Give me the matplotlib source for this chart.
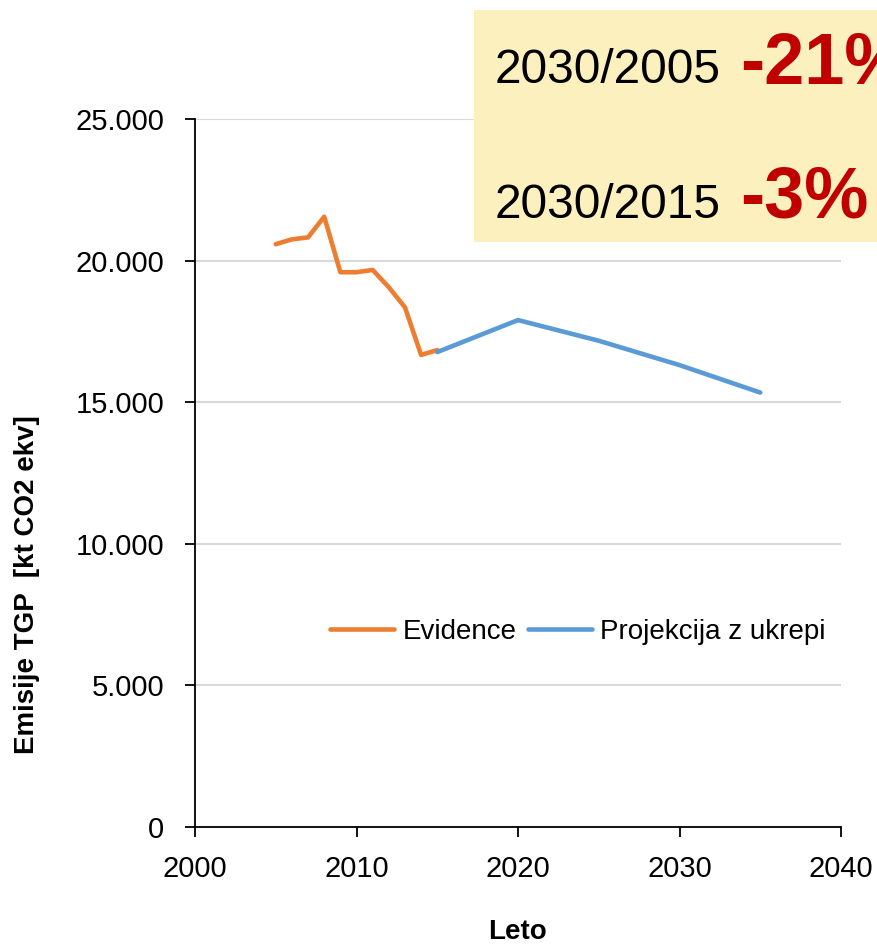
import numpy as np
import matplotlib.pyplot as plt
from matplotlib.patches import Rectangle
from matplotlib.ticker import FuncFormatter

# podatki (odčitani s slike)
leta_ev = [2005, 2006, 2007, 2008, 2009, 2010, 2011, 2012, 2013, 2014, 2015]
evidence = [20580, 20750, 20820, 21550, 19590, 19590, 19670, 19060, 18350, 16670, 16840]
leta_proj = [2015, 2020, 2025, 2030, 2035]
projekcija = [16770, 17900, 17170, 16310, 15340]
legende = ['Evidence', 'Projekcija z ukrepi']

plt.rcParams['font.family'] = ['Liberation Sans', 'DejaVu Sans']
plt.rcParams['font.size'] = 20

W, H = 878, 947
fig = plt.figure(figsize=(W / 100, H / 100), dpi=100)
ax = fig.add_axes([195 / W, 1 - 827 / H, 646 / W, 708 / H])

ax.plot(leta_ev, evidence, color='#ED7D31', lw=3.3, label=legende[0], solid_capstyle='round')
ax.plot(leta_proj, projekcija, color='#5B9BD5', lw=3.3, label=legende[1], solid_capstyle='round')

ax.set_xlim(2000, 2040)
ax.set_ylim(0, 25000)
ax.set_xticks([2000, 2010, 2020, 2030, 2040])
ax.set_yticks([0, 5000, 10000, 15000, 20000, 25000])
ax.yaxis.set_major_formatter(FuncFormatter(lambda v, p: f'{int(v):,}'.replace(',', '.')))
ax.grid(axis='y', color='#D9D9D9', lw=1.5)
ax.set_axisbelow(True)
for s in ['top', 'right']:
    ax.spines[s].set_visible(False)
for s in ['left', 'bottom']:
    ax.spines[s].set_linewidth(1.3)
ax.tick_params(direction='out', length=7, width=1.3, labelsize=21)
ax.tick_params(axis='y', pad=15)
ax.tick_params(axis='x', pad=13)

fig.text(27 / W, 1 - 585 / H, 'Emisije TGP  [kt CO2 ekv]', rotation=90,
         ha='center', va='center', fontweight='bold', fontsize=20)
fig.text(518 / W, 1 - 932 / H, 'Leto', ha='center', va='center',
         fontweight='bold', fontsize=20)

ax.legend(loc='center', bbox_to_anchor=(578 / W, 1 - 632 / H), bbox_transform=fig.transFigure,
          ncol=2, frameon=False, handlelength=2.3, handletextpad=0.3,
          columnspacing=0.4, fontsize=20)

# okvir z deleži
fig.add_artist(Rectangle((474 / W, 1 - 242 / H), (W - 474) / W, 232 / H,
                         transform=fig.transFigure, facecolor='#FCF0BF', edgecolor='none', zorder=5))
fig.text(495 / W, 1 - 83 / H, '2030/2005', fontsize=34.5, va='baseline', zorder=6)
fig.text(740 / W, 1 - 83 / H, '-21%', fontsize=52, fontweight='bold', color='#C00000',
         va='baseline', zorder=6)
fig.text(495 / W, 1 - 218 / H, '2030/2015', fontsize=34.5, va='baseline', zorder=6)
fig.text(740 / W, 1 - 218 / H, '-3%', fontsize=52, fontweight='bold', color='#C00000',
         va='baseline', zorder=6)

plt.savefig('out.png', dpi=100)
